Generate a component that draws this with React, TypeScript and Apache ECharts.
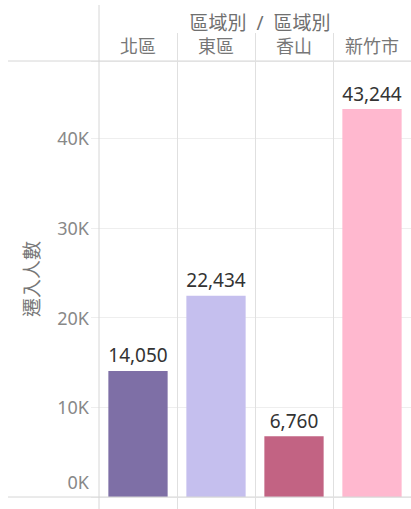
import React, { useEffect, useRef } from "react";
import * as echarts from "echarts";

const categories = ["北區", "東區", "香山", "新竹市"];
const values = [14050, 22434, 6760, 43244];
const barColors = ["#7e6fa6", "#c5bfee", "#c26383", "#ffb8cf"];
const yTicks = [0, 10000, 20000, 30000, 40000];
const headerTitle = "區域別  /  區域別";
const yName = "遷入人數";

const W = 411;
const H = 509;
const GL = 99;
const GT = 61;
const GB = 12;
const FONT = "'Noto Sans', 'Noto Sans CJK TC', sans-serif";

export default function App() {
  const ref = useRef<HTMLDivElement>(null);
  useEffect(() => {
    if (!ref.current) return;
    const chart = echarts.init(ref.current, null, { renderer: "svg" });
    const plotW = W - GL;
    const band = plotW / categories.length;
    const lineColor = "#d6d6d6";
    const graphics: any[] = [];
    graphics.push({ type: "line", shape: { x1: 8, y1: GT, x2: W, y2: GT }, style: { stroke: lineColor, lineWidth: 1 }, z: 10 });
    graphics.push({ type: "line", shape: { x1: 8, y1: H - GB, x2: W, y2: H - GB }, style: { stroke: lineColor, lineWidth: 1 }, z: 10 });
    graphics.push({ type: "line", shape: { x1: GL, y1: 5, x2: GL, y2: H }, style: { stroke: lineColor, lineWidth: 1 }, z: 10 });
    for (let i = 1; i < categories.length; i++) {
      const x = Math.round(GL + band * i) + 0.5;
      graphics.push({ type: "line", shape: { x1: x, y1: 33, x2: x, y2: H }, style: { stroke: "#e0e0e0", lineWidth: 1 }, z: 10 });
    }
    chart.setOption({
      animation: false,
      title: {
        text: headerTitle,
        left: GL + plotW / 2,
        top: 8,
        textAlign: "center",
        textStyle: { fontSize: 19, fontWeight: "normal", color: "#6f6f6f", fontFamily: FONT },
      },
      graphic: graphics,
      grid: { left: GL, right: 0, top: GT, bottom: GB, containLabel: false },
      xAxis: {
        type: "category",
        data: categories,
        position: "top",
        axisLine: { show: false },
        axisTick: { show: false },
        axisLabel: { color: "#777", fontSize: 18, margin: 6, fontFamily: FONT },
        splitLine: { show: false },
      },
      yAxis: {
        type: "value",
        min: 0,
        max: 48600,
        interval: 10000,
        name: yName,
        nameLocation: "middle",
        nameRotate: 90,
        nameGap: 58,
        nameTextStyle: { color: "#777", fontSize: 19, fontFamily: FONT },
        axisLine: { show: false },
        axisTick: { show: true, length: 8, lineStyle: { color: "#eeeeee" } },
        splitLine: { lineStyle: { color: "#eeeeee" } },
        axisLabel: {
          color: "#888",
          fontSize: 18,
          margin: 10,
          fontFamily: FONT,
          formatter: (v: number) => (yTicks.includes(v) ? (v === 0 ? "{z|0K}" : `${v / 1000}K`) : ""),
          rich: { z: { color: "#888", fontSize: 18, fontFamily: FONT, padding: [0, 0, 30, 0] } },
        },
      },
      series: [
        {
          type: "bar",
          data: values.map((v, i) => ({ value: v, itemStyle: { color: barColors[i] } })),
          barWidth: "76%",
          label: {
            show: true,
            position: "top",
            distance: 6,
            color: "#333",
            fontSize: 19,
            fontFamily: FONT,
            formatter: (p: any) => Number(p.value).toLocaleString("en-US"),
          },
        },
      ],
    });
    return () => chart.dispose();
  }, []);
  return <div ref={ref} style={{ width: W, height: H, position: "absolute", left: 0, top: 0 }} />;
}
